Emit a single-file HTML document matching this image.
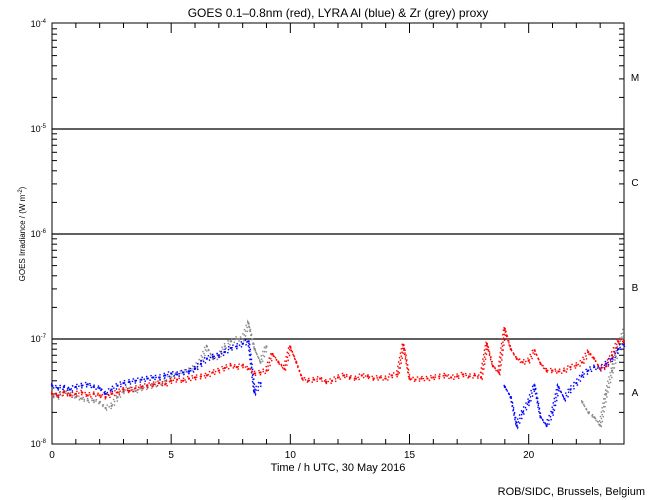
<!DOCTYPE html>
<html><head><meta charset="utf-8">
<style>
body{margin:0;background:#fff;}
svg{display:block;font-family:"Liberation Sans",sans-serif;}
</style></head>
<body>
<svg id="chart" width="650" height="500" viewBox="0 0 650 500">
<rect width="650" height="500" fill="#fff"/>
<text x="338" y="17" font-size="12" text-anchor="middle">GOES 0.1–0.8nm (red), LYRA Al (blue) &amp; Zr (grey) proxy</text>
<text x="338" y="471" font-size="11" text-anchor="middle">Time / h UTC, 30 May 2016</text>
<text transform="translate(25,234) rotate(-90)" font-size="8" text-anchor="middle">GOES Irradiance / (W m<tspan dy="-3" font-size="6">-2</tspan><tspan dy="3">)</tspan></text>
<text x="645" y="495" font-size="11" text-anchor="end">ROB/SIDC, Brussels, Belgium</text>
<g id="axes"></g>
<g id="series"></g>
</svg>
<script>
// Values in units of 1e-8 W/m^2
const redTimes = [0,0.25,0.5,0.75,1,1.25,1.5,1.75,2,2.25,2.5,2.75,3,3.25,3.5,3.75,4,4.25,4.5,4.75,5,5.25,5.5,5.75,6,6.25,6.5,6.75,7,7.25,7.5,7.75,8,8.25,8.5,8.75,9,9.25,9.5,9.75,10,10.25,10.5,10.75,11,11.25,11.5,11.75,12,12.25,12.5,12.75,13,13.25,13.5,13.75,14,14.25,14.5,14.75,15,15.25,15.5,15.75,16,16.25,16.5,16.75,17,17.25,17.5,17.75,18,18.25,18.5,18.75,19,19.25,19.5,19.75,20,20.25,20.5,20.75,21,21.25,21.5,21.75,22,22.25,22.5,22.75,23,23.25,23.5,23.75,24];
const redValues = [3.0,2.9,3.1,2.9,3.0,3.1,2.9,3.0,2.9,2.8,3.0,3.1,3.3,3.2,3.4,3.5,3.6,3.7,3.8,3.7,4.0,4.1,4.0,4.2,4.3,4.4,4.5,4.8,5.0,5.3,5.6,5.4,5.6,5.2,4.7,4.8,5.0,7.2,6.0,5.2,8.4,6.0,4.2,4.0,4.1,4.2,3.9,4.0,4.3,4.5,4.3,4.2,4.5,4.4,4.2,4.3,4.2,4.5,4.6,8.8,4.2,4.1,4.2,4.2,4.3,4.4,4.5,4.3,4.4,4.6,4.4,4.5,4.3,9.0,5.5,4.8,12.5,8.0,6.5,6.0,6.2,7.8,5.8,5.0,5.0,4.9,5.0,5.4,5.6,6.0,7.5,6.5,5.2,5.5,7.0,9.5,9.5];
const blueTimes1 = [0,0.25,0.5,0.75,1,1.25,1.5,1.75,2,2.25,2.5,2.75,3,3.25,3.5,3.75,4,4.25,4.5,4.75,5,5.25,5.5,5.75,6,6.25,6.5,6.75,7,7.25,7.5,7.75,8,8.25,8.5,8.75];
const blueValues1 = [3.6,3.4,3.5,3.3,3.5,3.6,3.7,3.5,3.4,3.0,3.3,3.6,3.8,3.9,4.0,4.1,4.2,4.3,4.3,4.5,4.7,4.6,4.8,4.9,5.2,5.8,6.5,6.8,7.0,7.5,8.2,8.5,9.0,9.5,3.1,3.8];
const blueTimes2 = [19,19.25,19.5,19.75,20,20.25,20.5,20.75,21,21.25,21.5,21.75,22,22.25,22.5,22.75,23,23.25,23.5,23.75,24];
const blueValues2 = [3.5,2.8,1.5,2.0,2.5,3.6,1.8,1.5,2.0,3.5,2.7,3.3,3.8,4.5,5.0,5.4,5.2,5.8,6.5,8.0,9.0];
const greyTimes1 = [0,0.25,0.5,0.75,1,1.25,1.5,1.75,2,2.25,2.5,2.75,3,3.25,3.5,3.75,4,4.25,4.5,4.75,5,5.25,5.5,5.75,6,6.25,6.5,6.75,7,7.25,7.5,7.75,8,8.25,8.5,8.75,9];
const greyValues1 = [2.9,2.8,3.2,3.0,2.8,2.7,2.6,2.6,2.5,2.2,2.3,2.8,3.2,3.4,3.2,3.4,3.5,3.6,3.8,4.0,4.3,4.6,4.8,5.0,5.4,6.2,8.5,6.5,6.8,8.5,9.5,10.0,10.0,14.0,8.0,6.0,8.5];
const greyTimes2 = [22.25,22.5,22.75,23,23.25,23.5,23.75,24];
const greyValues2 = [2.5,2.0,1.8,1.5,3.0,5.0,8.0,12.0];
const yTickExps = [-8,-7,-6,-5,-4];
const xTickLabels = [0,5,10,15,20];
const classLabels = ["A","B","C","M"];

const NS="http://www.w3.org/2000/svg";
const L=52,R=624,T=23,B=444;
const xs=t=>L+(R-L)*t/24;
const ys=v=>B-105*Math.log10(v);
const ax=document.getElementById('axes'), sr=document.getElementById('series');
function mk(tag,at,parent){const e=document.createElementNS(NS,tag);for(const k in at)e.setAttribute(k,at[k]);parent.appendChild(e);return e;}

let frame=mk('rect',{x:L,y:T,width:R-L,height:B-T,fill:'none',stroke:'#000','stroke-width':1},ax);



for(let i=0;i<yTickExps.length;i++){
  const y=B-105*i;
  if(i>0&&i<yTickExps.length-1){
    const ln=mk('line',{x1:L,x2:R,y1:y,y2:y,stroke:'#000','stroke-width':1.2},ax);
    
    
  }
  const tx=mk('text',{x:L-6,y:y+3,'font-size':9,'text-anchor':'end'},ax);
  
  
  tx.innerHTML='10<tspan dy="-4" font-size="6">'+yTickExps[i]+'</tspan>';
  if(i<yTickExps.length-1){
    for(let m=1;m<10;m++){
      const yy=y-105*Math.log10(m);
      const len=m===1?10:5;
      mk('line',{x1:L,x2:L+len,y1:yy,y2:yy,stroke:'#000'},ax);
      mk('line',{x1:R,x2:R-len,y1:yy,y2:yy,stroke:'#000'},ax);
    }
  }
}
classLabels.forEach((c,i)=>{
  const t=mk('text',{x:635,y:B-105*i-52+4,'font-size':10,'text-anchor':'middle'},ax);
  t.textContent=c;
  
  
});
for(let h=0;h<=24;h++){
  const x=xs(h), len=h%5===0?10:5;
  mk('line',{x1:x,x2:x,y1:B,y2:B-len,stroke:'#000'},ax);
  mk('line',{x1:x,x2:x,y1:T,y2:T+len,stroke:'#000'},ax);
}
xTickLabels.forEach(h=>{
  const t=mk('text',{x:xs(h),y:B+14,'font-size':10,'text-anchor':'middle'},ax);
  t.textContent=h;
  
  
});

function series(times,vals,color,name){
  const g=mk('g',{},sr);
  
  
  const pts=times.map((t,i)=>xs(t)+','+ys(vals[i])).join(' ');
  [[-2,'1.5 3'],[0,'1.5 2.5'],[2,'1.5 3.5']].forEach(([d,da])=>{
    mk('polyline',{points:pts,fill:'none',stroke:color,'stroke-width':1.4,'stroke-dasharray':da,transform:'translate('+d/2+','+d+')'},g);
  });
  times.forEach((t,i)=>{
    const p=mk('rect',{x:xs(t)-1,y:ys(vals[i])-1,width:2,height:2,fill:color},g);
    
    
  });
}
series(greyTimes1,greyValues1,'#888','zr-proxy-series');
series(greyTimes2,greyValues2,'#888','zr-proxy-series');
series(blueTimes1,blueValues1,'#00f','al-proxy-series');
series(blueTimes2,blueValues2,'#00f','al-proxy-series');
series(redTimes,redValues,'#f00','goes-series');
</script>
</body></html>
